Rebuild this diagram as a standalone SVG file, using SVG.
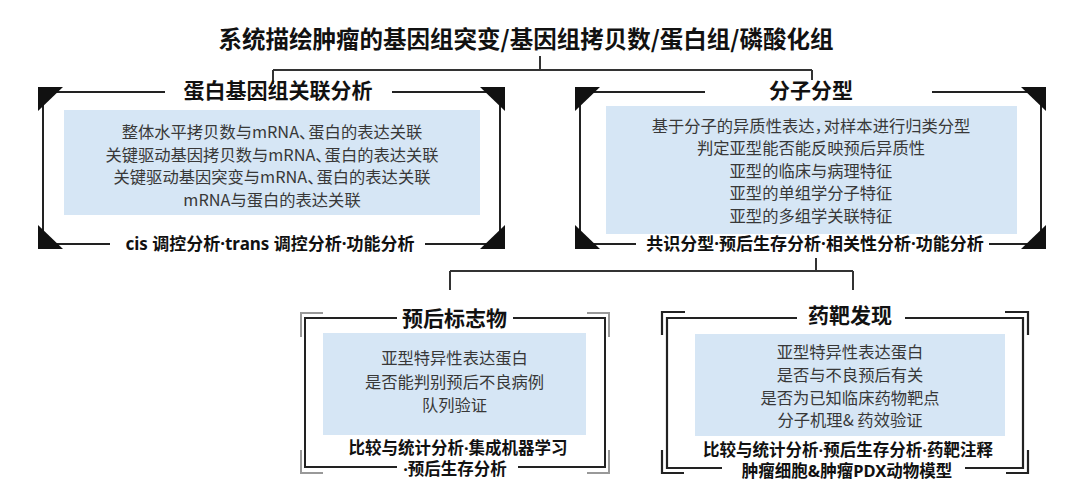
<svg xmlns="http://www.w3.org/2000/svg" width="1077" height="504" viewBox="0 0 1077 504">
<style>
text{font-family:"Noto Sans CJK SC","Noto Sans",sans-serif;text-anchor:middle}
.main{font-size:23.5px;font-weight:700;fill:#111}
.nt{font-size:21px;font-weight:700;fill:#111}
.body{font-size:16.3px;fill:#383838}
.foot{font-family:"Noto Sans","Noto Sans CJK SC",sans-serif;font-size:17px;font-weight:700;fill:#111}
.foot2{font-family:"Noto Sans","Noto Sans CJK SC",sans-serif;font-size:16.5px;font-weight:700;fill:#111}
.n{letter-spacing:-7px}
.fr{fill:none;stroke:#222;stroke-width:2}
.fr2{fill:none;stroke:#999;stroke-width:2}
.fr3{fill:none;stroke:#222;stroke-width:2.2}
.tri{fill:#111}
.bg{fill:#d6e6f5}
.con{fill:none;stroke:#333;stroke-width:2}
</style>
<rect width="1077" height="504" fill="#fff"/>
<g id="title">
<text class="main" x="526" y="48">系统描绘肿瘤的基因组突变/基因组拷贝数/蛋白组/磷酸化组</text>
</g>
<g id="connectors">
<path class="con" d="M540,56V70M273,70H812M273,70V84M812,70V80"/>
<path class="con" d="M816,258V271M450,271H853M450,271V290M853,271V290"/>
</g>
<g id="node-proteogenomic">
<path class="fr" d="M165,92H43V244H110M425,244H500V92H392"/>
<polygon class="tri" points="38,87 63,87 38,111"/>
<polygon class="tri" points="505,87 480,87 505,111"/>
<polygon class="tri" points="38,249 63,249 38,225"/>
<polygon class="tri" points="505,249 480,249 505,225"/>
<text class="nt" x="278" y="98">蛋白基因组关联分析</text>
<rect class="bg" x="64" y="110" width="416" height="105"/>
<text class="body" x="272" y="138">整体水平拷贝数与mRNA<tspan class="n">、</tspan>蛋白的表达关联</text>
<text class="body" x="272" y="160.5">关键驱动基因拷贝数与mRNA<tspan class="n">、</tspan>蛋白的表达关联</text>
<text class="body" x="272" y="183">关键驱动基因突变与mRNA<tspan class="n">、</tspan>蛋白的表达关联</text>
<text class="body" x="272" y="205.5">mRNA与蛋白的表达关联</text>
<text class="foot" x="270" y="250">cis 调控分析·trans 调控分析·功能分析</text>
</g>
<g id="node-subtype">
<path class="fr" d="M705,92H580V244H636M989,244H1041V92H932"/>
<polygon class="tri" points="575,87 600,87 575,111"/>
<polygon class="tri" points="1046,87 1021,87 1046,111"/>
<polygon class="tri" points="575,249 600,249 575,225"/>
<polygon class="tri" points="1046,249 1021,249 1046,225"/>
<text class="nt" x="811" y="98">分子分型</text>
<rect class="bg" x="606" y="106" width="411" height="128"/>
<text class="body" x="811" y="131.5">基于分子的异质性表达<tspan class="n">，</tspan>对样本进行归类分型</text>
<text class="body" x="811" y="154">判定亚型能否能反映预后异质性</text>
<text class="body" x="811" y="176.5">亚型的临床与病理特征</text>
<text class="body" x="811" y="199">亚型的单组学分子特征</text>
<text class="body" x="811" y="221.5">亚型的多组学关联特征</text>
<text class="foot" x="815" y="250">共识分型·预后生存分析·相关性分析·功能分析</text>
</g>
<g id="node-prognostic">
<path class="fr" d="M397,318H305V467H397M518,467H605V318H513"/>
<path class="fr2" d="M301,337V313H323M587,313H609V337M301,450V473H323M587,473H609V450"/>
<text class="nt" x="454.5" y="326">预后标志物</text>
<rect class="bg" x="323" y="333" width="263" height="102"/>
<text class="body" x="454.5" y="364">亚型特异性表达蛋白</text>
<text class="body" x="454.5" y="388">是否能判别预后不良病例</text>
<text class="body" x="454.5" y="411">队列验证</text>
<text class="foot2" x="458" y="454">比较与统计分析·集成机器学习</text>
<text class="foot2" x="455" y="475">·预后生存分析</text>
</g>
<g id="node-drug">
<path class="fr3" d="M797,318H667V468H722M965,468H1023V318H905"/>
<path class="fr3" d="M662,335V312H685M1005,312H1028V335M662,450V473H684M1006,473H1028V450"/>
<text class="nt" x="850" y="323">药靶发现</text>
<rect class="bg" x="695" y="334" width="310" height="102"/>
<text class="body" x="850" y="358">亚型特异性表达蛋白</text>
<text class="body" x="850" y="381">是否与不良预后有关</text>
<text class="body" x="850" y="404">是否为已知临床药物靶点</text>
<text class="body" x="850" y="426">分子机理&amp; 药效验证</text>
<text class="foot2" x="848" y="455.5">比较与统计分析·预后生存分析·药靶注释</text>
<text class="foot2" x="847" y="477">肿瘤细胞&amp;肿瘤PDX动物模型</text>
</g>
</svg>
